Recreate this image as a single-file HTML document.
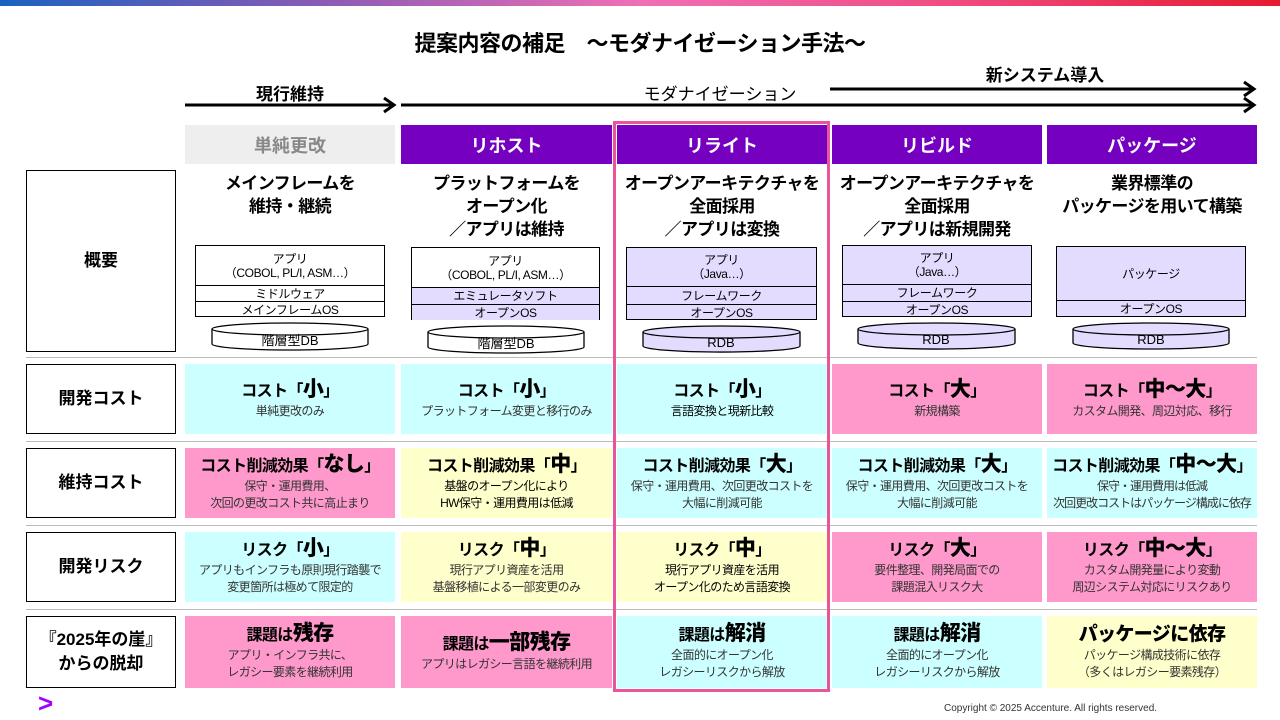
<!DOCTYPE html>
<html><head><meta charset="utf-8"><style>
*{margin:0;padding:0;box-sizing:border-box}
body{width:1280px;height:720px;background:#fff;position:relative;overflow:hidden;font-family:"Liberation Sans","Noto Sans CJK JP",sans-serif;color:#000}
.a{position:absolute}
.c{position:absolute;display:flex;flex-direction:column;align-items:center;justify-content:center;text-align:center}
.t{font-weight:bold;font-size:16px;line-height:22px;letter-spacing:-0.6px}
.t b{font-size:21px}
.s{font-size:12px;line-height:17px;color:#333;letter-spacing:-0.6px;white-space:nowrap}
.lab{position:absolute;left:26px;width:150px;border:1px solid #000;display:flex;align-items:center;justify-content:center;text-align:center;font-weight:bold;font-size:17px;line-height:24px}
.hd{position:absolute;top:125px;height:39px;display:flex;align-items:center;justify-content:center;font-weight:bold;font-size:18px;color:#fff;background:#7500c0}
.sep{position:absolute;left:26px;width:1231px;height:1px;background:#bbb}
.ov{position:absolute;top:172px;font-weight:bold;font-size:17px;line-height:23px;text-align:center;letter-spacing:-0.6px}
.stk{position:absolute;border:1px solid #000;font-size:12px;text-align:center;letter-spacing:-0.4px}
.stk div{border-top:1px solid #000;display:flex;align-items:center;justify-content:center;line-height:14px}
.stk div:first-child{border-top:none}
.L{background:#e3dcff}
.cy{background:#ccffff}.pk{background:#ff99cc}.ye{background:#ffffcc}
</style></head><body>
<div class="a" style="left:0;top:0;width:1280px;height:6px;background:linear-gradient(90deg,#1a62c0,#8a5bb5 25%,#f06fb5 50%,#f04a80 75%,#e51b30)"></div>
<div class="a" style="left:0;top:26px;width:1280px;text-align:center;font-weight:bold;font-size:22px;letter-spacing:-0.5px">提案内容の補足　～モダナイゼーション手法～</div>

<svg class="a" style="left:0;top:0" width="1280" height="130">
<g stroke="#000" stroke-width="3" fill="none">
<line x1="185" y1="105" x2="394" y2="105"/><polyline points="384,98 394,105 384,112"/>
<line x1="401" y1="105" x2="1254" y2="105"/><polyline points="1244,98 1254,105 1244,112"/>
<line x1="830" y1="89" x2="1254" y2="89"/><polyline points="1244,82 1254,89 1244,96"/>
</g></svg>
<div class="a" style="left:185px;top:80px;width:210px;text-align:center;font-weight:bold;font-size:17px">現行維持</div>
<div class="a" style="left:560px;top:80px;width:320px;text-align:center;font-size:17px">モダナイゼーション</div>
<div class="a" style="left:940px;top:61px;width:210px;text-align:center;font-weight:bold;font-size:17px">新システム導入</div>

<div class="hd" style="left:185px;width:210px;background:#eee;color:#888">単純更改</div>
<div class="hd" style="left:401px;width:211px">リホスト</div>
<div class="hd" style="left:617px;width:210px">リライト</div>
<div class="hd" style="left:832px;width:210px">リビルド</div>
<div class="hd" style="left:1047px;width:210px">パッケージ</div>

<div class="lab" style="top:170px;height:182px">概要</div>
<div class="lab" style="top:364px;height:70px">開発コスト</div>
<div class="lab" style="top:448px;height:70px">維持コスト</div>
<div class="lab" style="top:532px;height:70px">開発リスク</div>
<div class="lab" style="top:616px;height:72px">『2025年の崖』<br>からの脱却</div>

<div class="sep" style="top:357px"></div><div class="sep" style="top:441px"></div><div class="sep" style="top:525px"></div><div class="sep" style="top:609px"></div>

<div class="ov" style="left:185px;width:210px">メインフレームを<br>維持・継続</div>
<div class="ov" style="left:401px;width:211px">プラットフォームを<br>オープン化<br>／アプリは維持</div>
<div class="ov" style="left:617px;width:210px">オープンアーキテクチャを<br>全面採用<br>／アプリは変換</div>
<div class="ov" style="left:832px;width:210px">オープンアーキテクチャを<br>全面採用<br>／アプリは新規開発</div>
<div class="ov" style="left:1047px;width:210px">業界標準の<br>パッケージを用いて構築</div>

<div class="stk" style="left:195px;top:245px;width:190px;height:72px"><div style="height:39px">アプリ<br>（COBOL, PL/I, ASM…）</div><div style="height:16px">ミドルウェア</div><div style="height:16px">メインフレームOS</div></div>
<div class="stk" style="left:411px;top:247px;width:189px;height:73px"><div style="height:39px">アプリ<br>（COBOL, PL/I, ASM…）</div><div class="L" style="height:17px">エミュレータソフト</div><div class="L" style="height:16px">オープンOS</div></div>
<div class="stk L" style="left:626px;top:247px;width:191px;height:73px"><div style="height:38px">アプリ<br>（Java…）</div><div style="height:18px">フレームワーク</div><div style="height:16px">オープンOS</div></div>
<div class="stk L" style="left:842px;top:245px;width:190px;height:72px"><div style="height:38px">アプリ<br>（Java…）</div><div style="height:17px">フレームワーク</div><div style="height:16px">オープンOS</div></div>
<div class="stk L" style="left:1056px;top:246px;width:190px;height:71px"><div style="height:53px">パッケージ</div><div style="height:17px">オープンOS</div></div>

<svg class="a" style="left:0;top:0" width="1280" height="360">
<g stroke="#000" stroke-width="1.3">
<path d="M212,329 v15 a78,6 0 0 0 156,0 v-15" fill="#fff"/><ellipse cx="290" cy="329" rx="78" ry="6" fill="#fff"/>
<path d="M428,332 v15 a78,6 0 0 0 156,0 v-15" fill="#fff"/><ellipse cx="506" cy="332" rx="78" ry="6" fill="#fff"/>
<path d="M643,332 v14 a78,6 0 0 0 157,0 v-14" fill="#e3dcff"/><ellipse cx="721.5" cy="332" rx="78.5" ry="6" fill="#e3dcff"/>
<path d="M858,329 v14 a78,6 0 0 0 157,0 v-14" fill="#e3dcff"/><ellipse cx="936.5" cy="329" rx="78.5" ry="6" fill="#e3dcff"/>
<path d="M1073,329 v14 a78,6 0 0 0 156,0 v-14" fill="#e3dcff"/><ellipse cx="1151" cy="329" rx="78" ry="6" fill="#e3dcff"/>
</g>
<g font-size="13" text-anchor="middle" font-family="Liberation Sans,Noto Sans CJK JP,sans-serif">
<text x="290" y="345">階層型DB</text><text x="506" y="348">階層型DB</text><text x="721" y="347">RDB</text><text x="936" y="344">RDB</text><text x="1151" y="344">RDB</text>
</g></svg>

<div class="c cy" style="left:185px;top:364px;width:210px;height:70px"><div class="t">コスト「<b>小</b>」</div><div class="s">単純更改のみ</div></div>
<div class="c cy" style="left:401px;top:364px;width:211px;height:70px"><div class="t">コスト「<b>小</b>」</div><div class="s">プラットフォーム変更と移行のみ</div></div>
<div class="c cy" style="left:617px;top:364px;width:210px;height:70px"><div class="t">コスト「<b>小</b>」</div><div class="s" style="color:#000">言語変換と現新比較</div></div>
<div class="c pk" style="left:832px;top:364px;width:210px;height:70px"><div class="t">コスト「<b>大</b>」</div><div class="s">新規構築</div></div>
<div class="c pk" style="left:1047px;top:364px;width:210px;height:70px"><div class="t">コスト「<b>中～大</b>」</div><div class="s">カスタム開発、周辺対応、移行</div></div>

<div class="c pk" style="left:185px;top:448px;width:210px;height:70px"><div class="t">コスト削減効果「<b>なし</b>」</div><div class="s">保守・運用費用、<br>次回の更改コスト共に高止まり</div></div>
<div class="c ye" style="left:401px;top:448px;width:211px;height:70px"><div class="t">コスト削減効果「<b>中</b>」</div><div class="s" style="color:#000">基盤のオープン化により<br>HW保守・運用費用は低減</div></div>
<div class="c cy" style="left:617px;top:448px;width:210px;height:70px"><div class="t">コスト削減効果「<b>大</b>」</div><div class="s">保守・運用費用、次回更改コストを<br>大幅に削減可能</div></div>
<div class="c cy" style="left:832px;top:448px;width:210px;height:70px"><div class="t">コスト削減効果「<b>大</b>」</div><div class="s">保守・運用費用、次回更改コストを<br>大幅に削減可能</div></div>
<div class="c cy" style="left:1047px;top:448px;width:210px;height:70px"><div class="t">コスト削減効果「<b>中～大</b>」</div><div class="s" style="letter-spacing:-1px">保守・運用費用は低減<br>次回更改コストはパッケージ構成に依存</div></div>

<div class="c cy" style="left:185px;top:532px;width:210px;height:70px"><div class="t">リスク「<b>小</b>」</div><div class="s">アプリもインフラも原則現行踏襲で<br>変更箇所は極めて限定的</div></div>
<div class="c ye" style="left:401px;top:532px;width:211px;height:70px"><div class="t">リスク「<b>中</b>」</div><div class="s">現行アプリ資産を活用<br>基盤移植による一部変更のみ</div></div>
<div class="c ye" style="left:617px;top:532px;width:210px;height:70px"><div class="t">リスク「<b>中</b>」</div><div class="s" style="color:#000">現行アプリ資産を活用<br>オープン化のため言語変換</div></div>
<div class="c pk" style="left:832px;top:532px;width:210px;height:70px"><div class="t">リスク「<b>大</b>」</div><div class="s">要件整理、開発局面での<br>課題混入リスク大</div></div>
<div class="c pk" style="left:1047px;top:532px;width:210px;height:70px"><div class="t">リスク「<b>中～大</b>」</div><div class="s">カスタム開発量により変動<br>周辺システム対応にリスクあり</div></div>

<div class="c pk" style="left:185px;top:616px;width:210px;height:72px"><div class="t">課題は<b>残存</b></div><div class="s">アプリ・インフラ共に、<br>レガシー要素を継続利用</div></div>
<div class="c pk" style="left:401px;top:616px;width:211px;height:72px"><div class="t">課題は<b>一部残存</b></div><div class="s">アプリはレガシー言語を継続利用</div></div>
<div class="c cy" style="left:617px;top:616px;width:210px;height:72px"><div class="t">課題は<b>解消</b></div><div class="s">全面的にオープン化<br>レガシーリスクから解放</div></div>
<div class="c cy" style="left:832px;top:616px;width:210px;height:72px"><div class="t">課題は<b>解消</b></div><div class="s">全面的にオープン化<br>レガシーリスクから解放</div></div>
<div class="c ye" style="left:1047px;top:616px;width:210px;height:72px"><div class="t"><b style="font-size:19px">パッケージに依存</b></div><div class="s">パッケージ構成技術に依存<br>（多くはレガシー要素残存）</div></div>

<div class="a" style="left:613px;top:121px;width:217px;height:571px;border:3px solid #e8559b"></div>

<div class="a" style="left:38px;top:690px;font-size:26px;font-weight:bold;color:#a100ff;line-height:26px">&gt;</div>
<div class="a" style="left:944px;top:703px;font-size:10px;color:#333">Copyright © 2025 Accenture. All rights reserved.</div>
</body></html>
